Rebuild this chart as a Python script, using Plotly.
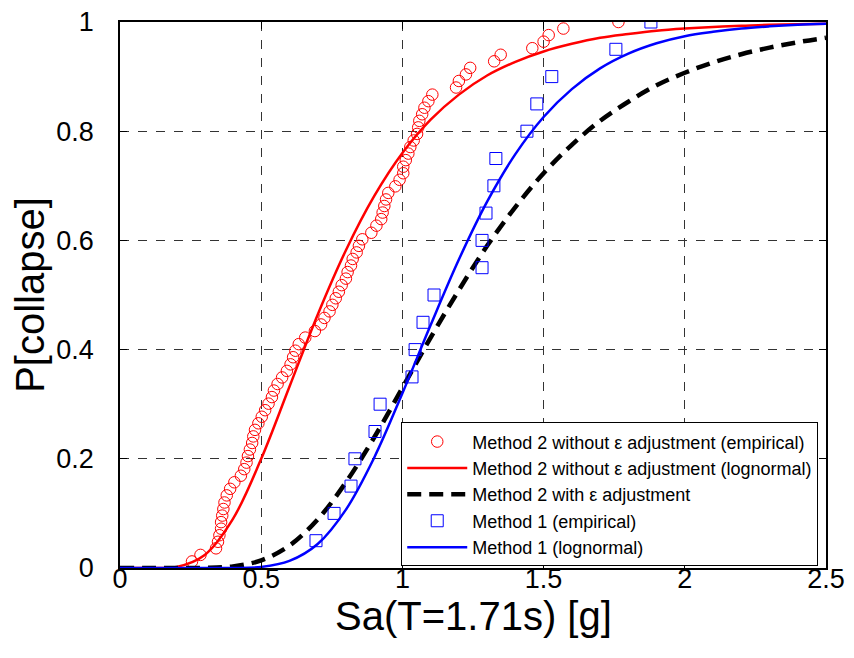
import plotly.graph_objects as go

# Method 2 without epsilon adjustment (empirical)
emp2_x = [0.255, 0.285, 0.340, 0.347, 0.352, 0.358, 0.358, 0.362, 0.366, 0.370,
          0.378, 0.390, 0.405, 0.428, 0.440, 0.448, 0.453, 0.460, 0.468, 0.472,
          0.478, 0.490, 0.502, 0.514, 0.526, 0.538, 0.545, 0.558, 0.574, 0.591,
          0.604, 0.613, 0.621, 0.633, 0.656, 0.690, 0.712, 0.724, 0.742, 0.752,
          0.764, 0.775, 0.785, 0.800, 0.806, 0.818, 0.824, 0.838, 0.846, 0.858,
          0.890, 0.908, 0.925, 0.930, 0.936, 0.942, 0.950, 0.975, 0.990, 1.003,
          1.003, 1.012, 1.021, 1.028, 1.040, 1.052, 1.056, 1.060, 1.070, 1.078,
          1.092, 1.106, 1.190, 1.200, 1.225, 1.240, 1.325, 1.348, 1.460, 1.500,
          1.518, 1.570, 1.765]
emp2_y = [0.012, 0.024, 0.036, 0.048, 0.060, 0.072, 0.084, 0.096, 0.108, 0.120,
          0.133, 0.145, 0.157, 0.169, 0.181, 0.193, 0.205, 0.217, 0.229, 0.241,
          0.253, 0.265, 0.277, 0.289, 0.301, 0.313, 0.325, 0.337, 0.349, 0.361,
          0.373, 0.386, 0.398, 0.410, 0.422, 0.434, 0.446, 0.458, 0.470, 0.482,
          0.494, 0.506, 0.518, 0.530, 0.542, 0.554, 0.566, 0.578, 0.590, 0.602,
          0.614, 0.627, 0.639, 0.651, 0.663, 0.675, 0.687, 0.699, 0.711, 0.723,
          0.735, 0.747, 0.759, 0.771, 0.783, 0.795, 0.807, 0.819, 0.831, 0.843,
          0.855, 0.867, 0.880, 0.892, 0.904, 0.916, 0.928, 0.940, 0.952, 0.964,
          0.976, 0.988, 1.000]

# Method 1 (empirical)
emp1_x = [0.694, 0.758, 0.818, 0.832, 0.903, 0.921, 1.034, 1.045, 1.073, 1.112,
          1.282, 1.282, 1.296, 1.324, 1.331, 1.441, 1.476, 1.529, 1.756, 1.880]
emp1_y = [0.05, 0.10, 0.15, 0.20, 0.25, 0.30, 0.35, 0.40, 0.45, 0.50,
          0.55, 0.60, 0.65, 0.70, 0.75, 0.80, 0.85, 0.90, 0.95, 1.00]

# Fitted curves
curve_x = [0.0, 0.1, 0.2, 0.3, 0.4, 0.5, 0.6, 0.7, 0.8, 0.9, 1.0, 1.1, 1.2,
           1.3, 1.4, 1.5, 1.6, 1.7, 1.8, 1.9, 2.0, 2.1, 2.2, 2.3, 2.4, 2.5]
m2_logn = [0.0, 0.0, 0.002, 0.024, 0.090, 0.200, 0.332, 0.464, 0.582, 0.681,
           0.760, 0.821, 0.867, 0.902, 0.927, 0.946, 0.960, 0.971, 0.978, 0.984,
           0.988, 0.991, 0.993, 0.995, 0.996, 0.997]
m2_eps = [0.0, 0.0, 0.0, 0.0002, 0.003, 0.014, 0.041, 0.089, 0.157, 0.239,
          0.330, 0.422, 0.509, 0.590, 0.661, 0.723, 0.775, 0.819, 0.854, 0.884,
          0.907, 0.926, 0.941, 0.953, 0.963, 0.971]
m1_logn = [0.0, 0.0, 0.0, 0.0, 0.0001, 0.002, 0.013, 0.044, 0.107, 0.202,
           0.320, 0.445, 0.565, 0.671, 0.758, 0.826, 0.877, 0.915, 0.942, 0.961,
           0.974, 0.982, 0.988, 0.992, 0.995, 0.997]

x_ticks = [0, 0.5, 1, 1.5, 2, 2.5]
x_tick_labels = ["0", "0.5", "1", "1.5", "2", "2.5"]
y_ticks = [0, 0.2, 0.4, 0.6, 0.8, 1]
y_tick_labels = ["0", "0.2", "0.4", "0.6", "0.8", "1"]
x_title = "Sa(T=1.71s) [g]"
y_title = "P[collapse]"

FONT = "Liberation Sans, Arial, sans-serif"

fig = go.Figure()
fig.add_trace(go.Scatter(
    x=emp2_x, y=emp2_y, mode="markers",
    name="Method 2 without ε adjustment (empirical)",
    marker=dict(symbol="circle-open", size=11.5, color="#ff0000", line=dict(width=1))))
fig.add_trace(go.Scatter(
    x=curve_x, y=m2_logn, mode="lines", line_shape="spline",
    name="Method 2 without ε adjustment (lognormal)",
    line=dict(color="#ff0000", width=2.5)))
fig.add_trace(go.Scatter(
    x=curve_x, y=m2_eps, mode="lines", line_shape="spline",
    name="Method 2 with ε adjustment",
    line=dict(color="#000000", width=4.5, dash="14px,8px")))
fig.add_trace(go.Scatter(
    x=emp1_x, y=emp1_y, mode="markers",
    name="Method 1 (empirical)",
    marker=dict(symbol="square-open", size=12, color="#0000ff", line=dict(width=1))))
fig.add_trace(go.Scatter(
    x=curve_x, y=m1_logn, mode="lines", line_shape="spline",
    name="Method 1 (lognormal)",
    line=dict(color="#0000ff", width=2.5)))

axis_common = dict(
    showline=True, linecolor="black", linewidth=1.5, mirror="ticks",
    ticks="inside", ticklen=7, tickwidth=1, tickcolor="black",
    showgrid=True, gridcolor="#333333", gridwidth=1, griddash="dash",
    zeroline=False, automargin=False, ticklabeloverflow="allow",
    tickfont=dict(family=FONT, size=27, color="black"),
)

fig.update_xaxes(range=[0, 2.5], tickvals=x_ticks, ticktext=x_tick_labels,
                 ticklabelstandoff=-14, **axis_common)
fig.update_yaxes(range=[0, 1], tickvals=y_ticks, ticktext=y_tick_labels,
                 ticklabelstandoff=19,
                 title=dict(text=y_title, font=dict(family=FONT, size=40, color="black"),
                            standoff=0),
                 **axis_common)

# x-axis title placed as an annotation so it can sit closer to the tick labels
fig.add_annotation(text=x_title, xref="paper", yref="paper", x=0.5, y=-0.088,
                   xanchor="center", yanchor="middle", showarrow=False,
                   font=dict(family=FONT, size=40, color="black"))

# page body has an 8px margin: size the figure so the plot area lands where the reference has it
fig.update_layout(
    width=846, height=650,
    margin=dict(l=112, r=28, t=14, b=90),
    paper_bgcolor="white", plot_bgcolor="white",
    font=dict(family=FONT, color="black"),
    showlegend=True,
    legend=dict(x=0.989, y=0.003, xanchor="right", yanchor="bottom",
                bgcolor="white", bordercolor="black", borderwidth=1,
                font=dict(family=FONT, size=18, color="black"),
                tracegroupgap=0, itemwidth=60),
)

fig.write_html("out.html")
